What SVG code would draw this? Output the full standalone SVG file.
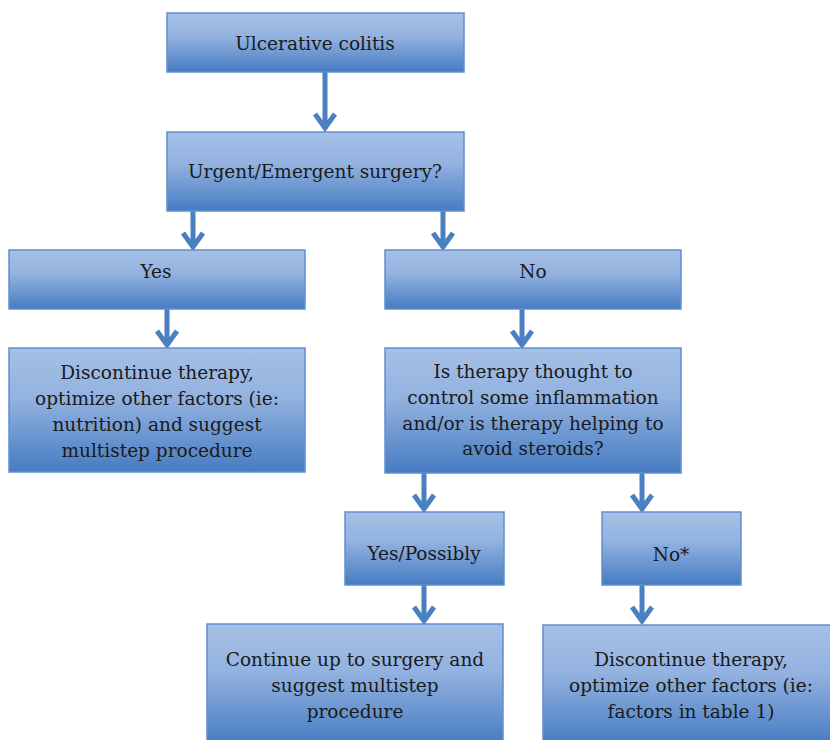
<svg xmlns="http://www.w3.org/2000/svg" width="830" height="740" viewBox="0 0 830 740">
<defs>
<linearGradient id="g" x1="0" y1="0" x2="0" y2="1">
<stop offset="0" stop-color="#a6c0e6"/>
<stop offset="0.4" stop-color="#93b2e0"/>
<stop offset="1" stop-color="#467cc2"/>
</linearGradient>
</defs>
<style>
.box{fill:url(#g);stroke:#5f90cf;stroke-width:1.5}
.t{font-family:"DejaVu Serif","Liberation Serif",serif;font-size:18.5px;fill:#1a1a1a;text-anchor:middle}
.c path{fill:none;stroke:#4a7fc1;stroke-width:5}
</style>
<rect width="830" height="740" fill="#fff"/>
<g class="c" id="connectors">
<path d="M325 72V128M315 114L325 128L335 114"/>
<path d="M193 211V247M183 233L193 247L203 233"/>
<path d="M443 211V247M433 233L443 247L453 233"/>
<path d="M167 309V345M157 331L167 345L177 331"/>
<path d="M522 309V345M512 331L522 345L532 331"/>
<path d="M424 473V509M414 495L424 509L434 495"/>
<path d="M642 473V509M632 495L642 509L652 495"/>
<path d="M424 585V621M414 607L424 621L434 607"/>
<path d="M642 585V621M632 607L642 621L652 607"/>
</g>
<g id="n1"><rect class="box" x="167" y="13" width="297" height="59"/><text class="t" x="315" y="50">Ulcerative colitis</text></g>
<g id="n2"><rect class="box" x="167" y="132" width="297" height="79"/><text class="t" x="315" y="178">Urgent/Emergent surgery?</text></g>
<g id="n3"><rect class="box" x="9" y="250" width="296" height="59"/><text class="t" x="156" y="278">Yes</text></g>
<g id="n4"><rect class="box" x="385" y="250" width="296" height="59"/><text class="t" x="533" y="278">No</text></g>
<g id="n5"><rect class="box" x="9" y="348" width="296" height="124"/><text class="t" x="157"><tspan x="157" y="379">Discontinue therapy,</tspan><tspan x="157" y="405">optimize other factors (ie:</tspan><tspan x="157" y="431">nutrition) and suggest</tspan><tspan x="157" y="457">multistep procedure</tspan></text></g>
<g id="n6"><rect class="box" x="385" y="348" width="296" height="125"/><text class="t" x="533"><tspan x="533" y="378">Is therapy thought to</tspan><tspan x="533" y="404">control some inflammation</tspan><tspan x="533" y="430">and/or is therapy helping to</tspan><tspan x="533" y="455">avoid steroids?</tspan></text></g>
<g id="n7"><rect class="box" x="345" y="512" width="159" height="73"/><text class="t" x="424" y="560">Yes/Possibly</text></g>
<g id="n8"><rect class="box" x="602" y="512" width="139" height="73"/><text class="t" x="671" y="561">No*</text></g>
<g id="n9"><rect class="box" x="207" y="624" width="296" height="120"/><text class="t" x="355"><tspan x="355" y="666">Continue up to surgery and</tspan><tspan x="355" y="692">suggest multistep</tspan><tspan x="355" y="718">procedure</tspan></text></g>
<g id="n10"><rect class="box" x="543" y="625" width="297" height="120"/><text class="t" x="691"><tspan x="691" y="666">Discontinue therapy,</tspan><tspan x="691" y="692">optimize other factors (ie:</tspan><tspan x="691" y="718">factors in table 1)</tspan></text></g>
</svg>
